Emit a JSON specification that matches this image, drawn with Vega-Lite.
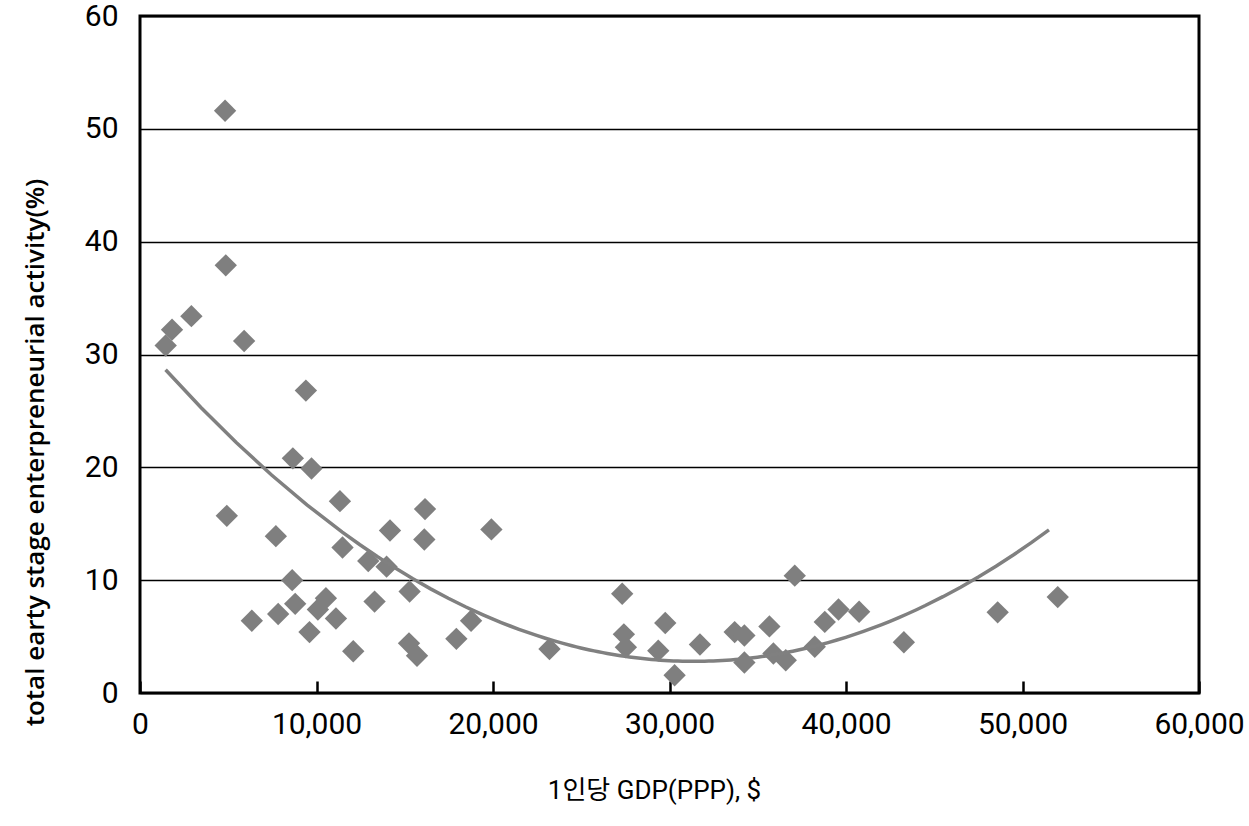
{
  "$schema": "https://vega.github.io/schema/vega-lite/v6.json",
  "width": 1059,
  "height": 677,
  "autosize": "none",
  "padding": {"left": 140, "top": 16, "right": 50, "bottom": 133},
  "background": "white",
  "config": {
    "view": {"stroke": "black", "strokeWidth": 3},
    "font": "Roboto, Noto Sans CJK KR"
  },
  "data": {
    "values": [
      {"gdp": 1455, "tea": 30.8}, {"gdp": 1815, "tea": 32.2}, {"gdp": 2911, "tea": 33.4},
      {"gdp": 4821, "tea": 51.6}, {"gdp": 4860, "tea": 37.9}, {"gdp": 5899, "tea": 31.2},
      {"gdp": 4918, "tea": 15.7}, {"gdp": 9398, "tea": 26.8}, {"gdp": 8661, "tea": 20.8},
      {"gdp": 9717, "tea": 19.9}, {"gdp": 7697, "tea": 13.9}, {"gdp": 11327, "tea": 17.0},
      {"gdp": 16149, "tea": 16.3}, {"gdp": 19909, "tea": 14.5}, {"gdp": 14163, "tea": 14.4},
      {"gdp": 16109, "tea": 13.6}, {"gdp": 11475, "tea": 12.9}, {"gdp": 12933, "tea": 11.7},
      {"gdp": 13971, "tea": 11.2}, {"gdp": 8622, "tea": 10.0}, {"gdp": 15275, "tea": 9.0},
      {"gdp": 10533, "tea": 8.4}, {"gdp": 13290, "tea": 8.1}, {"gdp": 8792, "tea": 7.9},
      {"gdp": 10079, "tea": 7.4}, {"gdp": 7828, "tea": 7.0}, {"gdp": 6336, "tea": 6.4},
      {"gdp": 11101, "tea": 6.6}, {"gdp": 9603, "tea": 5.4}, {"gdp": 18758, "tea": 6.4},
      {"gdp": 17924, "tea": 4.8}, {"gdp": 15241, "tea": 4.4}, {"gdp": 15695, "tea": 3.3},
      {"gdp": 12082, "tea": 3.7}, {"gdp": 23200, "tea": 3.9}, {"gdp": 27320, "tea": 8.8},
      {"gdp": 27415, "tea": 5.2}, {"gdp": 27528, "tea": 4.05}, {"gdp": 29760, "tea": 6.2},
      {"gdp": 29364, "tea": 3.75}, {"gdp": 30289, "tea": 1.57}, {"gdp": 31725, "tea": 4.3},
      {"gdp": 33692, "tea": 5.4}, {"gdp": 34242, "tea": 5.1}, {"gdp": 34242, "tea": 2.7},
      {"gdp": 35660, "tea": 5.9}, {"gdp": 35887, "tea": 3.5}, {"gdp": 36586, "tea": 2.9},
      {"gdp": 37096, "tea": 10.4}, {"gdp": 38230, "tea": 4.1}, {"gdp": 38798, "tea": 6.3},
      {"gdp": 39575, "tea": 7.4}, {"gdp": 40743, "tea": 7.2}, {"gdp": 43278, "tea": 4.5},
      {"gdp": 48593, "tea": 7.15}, {"gdp": 51996, "tea": 8.5}
    ]
  },
  "layer": [
    {
      "mark": {"type": "point", "shape": "diamond", "filled": true, "size": 500, "color": "#7f7f7f", "opacity": 1},
      "encoding": {
        "x": {
          "field": "gdp", "type": "quantitative",
          "scale": {"domain": [0, 60000], "nice": false},
          "axis": {
            "orient": "bottom",
            "title": "1인당 GDP(PPP), $",
            "values": [0, 10000, 20000, 30000, 40000, 50000, 60000],
            "format": ",d",
            "grid": true,
            "gridColor": "black",
            "gridOpacity": 1,
            "gridWidth": 2.5,
            "gridDash": [0, 665, 12, 0],
            "domain": false,
            "ticks": false,
            "labelFontSize": 30,
            "labelColor": "black",
            "labelPadding": 16,
            "labelFlush": false,
            "titleFontSize": 26,
            "titleFontWeight": "normal",
            "titleColor": "black",
            "titlePadding": 38,
            "titleX": 514
          }
        },
        "y": {
          "field": "tea", "type": "quantitative",
          "scale": {"domain": [0, 60], "nice": false},
          "axis": {
            "title": "total earty stage enterpreneurial activity(%)",
            "values": [0, 10, 20, 30, 40, 50, 60],
            "grid": true,
            "gridColor": "black",
            "gridWidth": 1.5,
            "gridOpacity": 1,
            "domain": false,
            "ticks": false,
            "labelFontSize": 30,
            "labelColor": "black",
            "labelPadding": 22,
            "titleFontSize": 26,
            "titleFontWeight": 600,
            "titleFont": "Open Sans",
            "titleColor": "black",
            "titleX": -92,
            "titleY": 436
          }
        }
      }
    },
    {
      "transform": [
        {"regression": "tea", "on": "gdp", "method": "poly", "order": 2, "extent": [1450, 51500]}
      ],
      "mark": {"type": "line", "color": "#808080", "strokeWidth": 3.5},
      "encoding": {
        "x": {"field": "gdp", "type": "quantitative"},
        "y": {"field": "tea", "type": "quantitative"}
      }
    }
  ]
}
